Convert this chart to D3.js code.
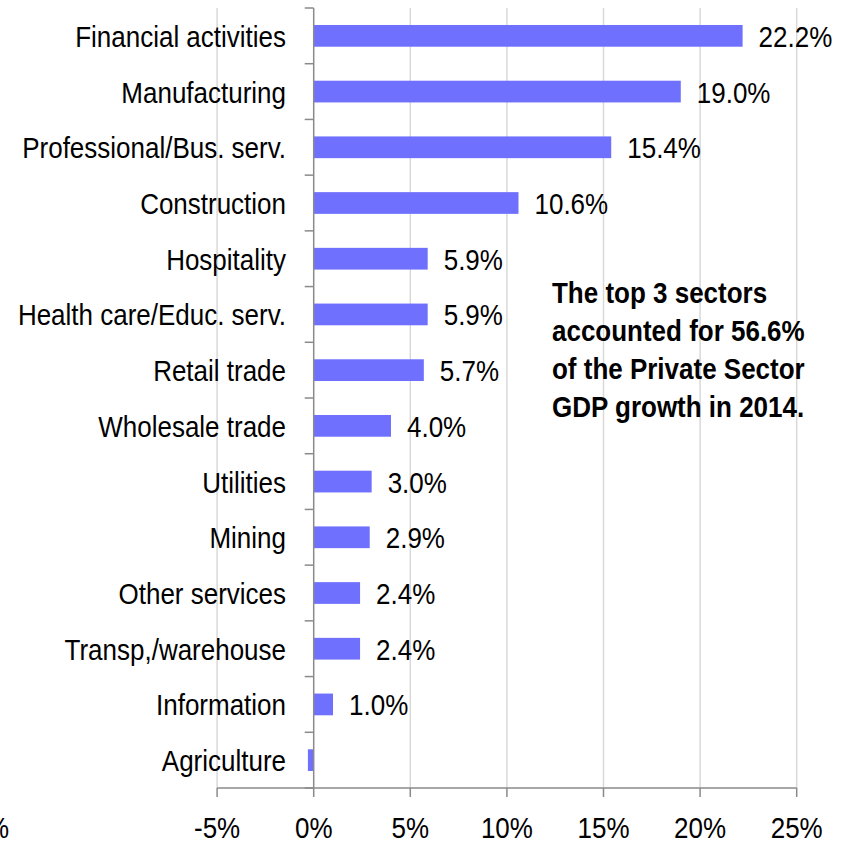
<!DOCTYPE html>
<html>
<head>
<meta charset="utf-8">
<script src="https://cdn.jsdelivr.net/npm/d3@7"></script>
<style>
  html, body { margin: 0; padding: 0; background: #fff; }
  svg { display: block; }
  text { font-family: "Liberation Sans", Arial, sans-serif; fill: #000; }
</style>
</head>
<body>
<svg id="chart" width="846" height="843"></svg>
<script>
const categories = ["Financial activities", "Manufacturing", "Professional/Bus. serv.", "Construction",
  "Hospitality", "Health care/Educ. serv.", "Retail trade", "Wholesale trade", "Utilities", "Mining",
  "Other services", "Transp,/warehouse", "Information", "Agriculture"];
const values = [22.2, 19.0, 15.4, 10.6, 5.9, 5.9, 5.7, 4.0, 3.0, 2.9, 2.4, 2.4, 1.0, -0.3];
const valueLabels = ["22.2%", "19.0%", "15.4%", "10.6%", "5.9%", "5.9%", "5.7%", "4.0%", "3.0%", "2.9%", "2.4%", "2.4%", "1.0%", ""];
const tickValues = [-5, 0, 5, 10, 15, 20, 25];
const tickLabels = ["-5%", "0%", "5%", "10%", "15%", "20%", "25%"];
const annotationLines = ["The top 3 sectors", "accounted for 56.6%", "of the Private Sector", "GDP growth in 2014."];

const svg = d3.select("#chart");
const x = d3.scaleLinear().domain([-5, 25]).range([217.1, 796.7]);
const y = d3.scaleBand().domain(categories).range([8, 788]).paddingInner(0.61).paddingOuter(0.305);
const step = y.step();
const plotTop = 8, plotBottom = 788;
const axisColor = "#8a8a8a", gridColor = "#d9d9d9";
const sy = 1.14;

function txt(g, xp, yp, s, anchor, size, weight) {
  return g.append("text")
    .attr("transform", `translate(${xp},${yp}) scale(1,${sy})`)
    .attr("text-anchor", anchor)
    .style("font-size", size + "px")
    .style("font-weight", weight || "normal")
    .text(s);
}

// gridlines
svg.append("g").selectAll("line").data(tickValues.filter(d => d !== 0)).join("line")
  .attr("x1", d => x(d)).attr("x2", d => x(d))
  .attr("y1", plotTop).attr("y2", plotBottom)
  .attr("stroke", gridColor).attr("stroke-width", 1.5);

// category labels
const lab = svg.append("g");
categories.forEach(c => txt(lab, 286, y(c) + y.bandwidth() / 2 + 11, c, "end", 26));

// bars
svg.append("g").selectAll("rect").data(values).join("rect")
  .attr("x", d => x(Math.min(0, d)))
  .attr("width", d => Math.abs(x(d) - x(0)))
  .attr("y", (d, i) => y(categories[i]))
  .attr("height", y.bandwidth())
  .attr("fill", "#7070ff");

// value labels
const vl = svg.append("g");
values.forEach((v, i) => {
  if (valueLabels[i]) txt(vl, x(Math.max(0, v)) + 16, y(categories[i]) + y.bandwidth() / 2 + 11, valueLabels[i], "start", 26);
});

// y axis
const ya = svg.append("g").attr("stroke", axisColor).attr("stroke-width", 1.5);
ya.append("line").attr("x1", x(0)).attr("x2", x(0)).attr("y1", plotTop).attr("y2", plotBottom);
d3.range(categories.length + 1).forEach(i => {
  ya.append("line").attr("x1", x(0) - 9).attr("x2", x(0)).attr("y1", plotTop + i * step).attr("y2", plotTop + i * step);
});

// x axis
const xa = svg.append("g").attr("stroke", axisColor).attr("stroke-width", 1.5);
xa.append("line").attr("x1", x(-5)).attr("x2", x(25)).attr("y1", plotBottom).attr("y2", plotBottom);
tickValues.forEach(t => {
  xa.append("line").attr("x1", x(t)).attr("x2", x(t)).attr("y1", plotBottom).attr("y2", plotBottom + 9);
});
const xl = svg.append("g");
tickValues.forEach((t, i) => txt(xl, x(t), 838, tickLabels[i], "middle", 26));
// label partly outside the left edge, as in the reference
txt(xl, 9, 838, "-10%", "end", 26);

// annotation
const an = svg.append("g");
annotationLines.forEach((l, i) => txt(an, 552, 303 + i * 38, l, "start", 26, "bold"));
</script>
</body>
</html>
